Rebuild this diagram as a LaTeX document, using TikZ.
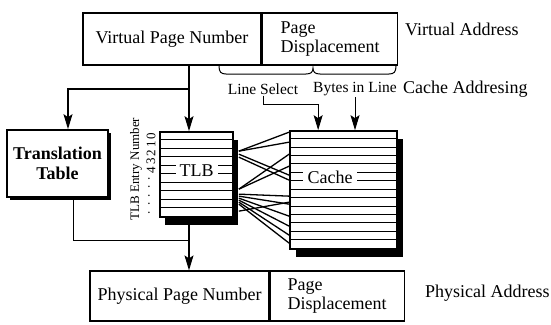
\documentclass[tikz,border=0pt]{standalone}
\usepackage{fontspec}
\setmainfont{Liberation Serif}
\usetikzlibrary{arrows.meta, positioning, calc, shadows}

\begin{document}
\begin{tikzpicture}[x=1pt, y=-1pt,
  field/.style={draw, line width=1.5pt, inner sep=0pt, align=left,
    font=\fontsize{18}{19}\selectfont, minimum height=52pt},
  block/.style={draw, line width=1.7pt, fill=white, inner sep=0pt, align=center,
    font=\fontsize{18}{20}\selectfont},
  tag/.style={font=\fontsize{18}{20}\selectfont, anchor=west, inner sep=0pt},
  small/.style={font=\fontsize{15.5}{17}\selectfont, inner sep=1pt},
  entry/.style={font=\fontsize{13}{14}\selectfont, inner sep=0pt, rotate=90},
  arr/.style={line width=1.2pt, -{Stealth[length=15pt, width=9pt, inset=3pt]}},
  link/.style={line width=1.3pt},
  row/.style={line width=1pt}]

  \useasboundingbox (0,0) rectangle (551,324);

  % Virtual address
  \node[field, minimum width=178pt] (vpn) at (172,39) {Virtual Page Number};
  \node[field, minimum width=135pt, right=0pt of vpn] (vdisp) {Page\\Displacement};
  \node[tag] (vaddr) at (405,29) {Virtual Address};

  % --- cache addressing fields ---
  \draw[line width=1pt] (219,66) .. controls (219,72) and (221,74) .. (226,74) -- (306,74)
    .. controls (311,74) and (313,72) .. (313,68) .. controls (313,72) and (315,74) .. (320,74)
    -- (389,74) .. controls (394,74) and (396,72) .. (396,66);
  \node[small] (lsel) at (263,89) {Line Select};
  \node[small] (bil) at (355,89) {Bytes in Line};
  \node[tag] (caddr) at (403,89) {Cache Addresing};

  % Translation table
  \node[block, minimum width=101pt, minimum height=67pt, font=\fontsize{18}{20}\selectfont\bfseries,
    drop shadow={shadow xshift=3pt, shadow yshift=-3pt, fill=black, opacity=1}]
    (tt) at (57.5,163.5) {Translation\\Table};

  % --- TLB ---
  \node[block, minimum width=73pt, minimum height=85pt,
    drop shadow={shadow xshift=5pt, shadow yshift=-8pt, fill=black, opacity=1}]
    (tlb) at (196.5,174.5) {};
  \foreach \k in {1,...,9}
    \draw[row] ($(tlb.north west)+(0,8.5*\k)$) -- ++(73,0);
  \node[fill=white, inner xsep=4pt, inner ysep=0.5pt, font=\fontsize{18}{20}\selectfont]
    (tlbname) at (196.5,170.5) {TLB};

  % entry numbers
  \node[entry] (entrytxt) at (136,169) {TLB Entry Number};
  \foreach \k in {0,...,4}
    \node[entry] (e\k) at (151,136+8.5*\k) {\k};
  \foreach \k in {5,...,9}
    \node[entry] (e\k) at (149,136+8.5*\k) {.};

  % --- Cache ---
  \node[block, minimum width=107pt, minimum height=118pt,
    drop shadow={shadow xshift=6pt, shadow yshift=-8pt, fill=black, opacity=1}]
    (cache) at (343.5,190) {};
  \foreach \k in {1,...,13}
    \draw[row] ($(cache.north west)+(0,8.43*\k)$) -- ++(107,0);
  \node[fill=white, inner xsep=5pt, inner ysep=0.5pt, font=\fontsize{18}{20}\selectfont]
    (cachename) at (330,177.5) {Cache};

  % TLB entries to cache lines
  \foreach \a/\b in {20/2, 20/12, 23/45, 26/50, 58/24, 58/36, 63/66, 65/74,
                     67/86, 69/96, 71/105, 73/113, 80/72}
    \draw[link] ($(tlb.north east)+(5,\a)$) -- ($(cache.north west)+(0,\b)$);

  % Physical address
  \node[field, line width=1.2pt, minimum width=179pt, minimum height=50pt] (ppn) at (179.5,296)
    {Physical Page Number};
  \node[field, line width=1.2pt, minimum width=134pt, minimum height=50pt, right=0pt of ppn]
    (pdisp) {Page\\Displacement};
  \node[tag] (paddr) at (425,293) {Physical Address};

  % arrows
  \coordinate (fork) at (189,89);
  \coordinate (join) at (189,240);
  \draw[line width=1.6pt] (vpn.south -| fork) -- (fork);
  \draw[arr] (fork) -- (tlb.north -| fork);
  \draw[arr] (fork) -| ($(tt.north)+(10.5,0)$);
  \draw[line width=0.8pt] ($(tt.south)+(15.5,0)$) |- (join);
  \draw[arr] (tlb.south -| join) -- (ppn.north -| join);

  \coordinate (lsin) at ($(cache.north west)+(29,0)$);
  \draw[arr, line width=0.9pt] (lsel.south) |- ($(lsin)+(0,-26)$) -- (lsin);
  \draw[arr, line width=0.9pt] (bil.south) -- (bil.south |- cache.north);

\end{tikzpicture}
\end{document}
